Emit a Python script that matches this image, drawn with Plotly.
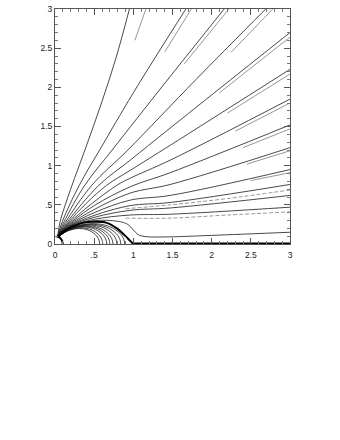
import plotly.graph_objects as go

# ---- tick labels ----
tick_vals = [0, 0.5, 1, 1.5, 2, 2.5, 3]
tick_text = ["0", ".5", "1", "1.5", "2", "2.5", "3"]

# ---- open field lines (solid, black) ----
open_x = [
    [0.035, 0.067, 0.2, 0.4, 0.6, 0.78, 0.95],
    [0.035, 0.093, 0.31, 0.57, 1.0, 1.67],
    [0.035, 0.112, 0.38, 0.73, 1.4, 2.16],
    [0.035, 0.129, 0.47, 0.93, 1.8, 2.69],
    [0.035, 0.143, 0.56, 0.96, 1.47, 3.0],
    [0.035, 0.155, 0.4, 0.66, 0.96, 1.47, 3.0],
    [0.035, 0.163, 0.45, 0.79, 0.96, 1.47, 3.0],
    [0.035, 0.172, 0.5, 0.96, 1.47, 3.0],
    [0.035, 0.178, 0.5, 0.96, 1.47, 3.0],
    [0.035, 0.185, 0.5, 0.96, 1.47, 3.0],
    [0.035, 0.191, 0.5, 0.96, 1.47, 3.0],
    [0.035, 0.195, 0.5, 0.96, 1.47, 3.0],
    [0.035, 0.199, 0.5, 0.96, 1.47, 3.0],
    [0.035, 0.203, 0.5, 0.8, 0.93, 1.0, 1.06, 1.15, 1.4, 2.0, 3.0],
]
open_y = [
    [0.105, 0.292, 0.7, 1.25, 1.82, 2.38, 3.0],
    [0.105, 0.285, 0.75, 1.2, 1.93, 3.0],
    [0.105, 0.278, 0.75, 1.2, 2.05, 3.0],
    [0.105, 0.271, 0.75, 1.2, 2.1, 3.0],
    [0.105, 0.264, 0.75, 1.07, 1.48, 2.7],
    [0.105, 0.257, 0.52, 0.75, 0.94, 1.26, 2.23],
    [0.105, 0.252, 0.5, 0.75, 0.84, 1.07, 1.85],
    [0.105, 0.246, 0.49, 0.73, 0.91, 1.52],
    [0.105, 0.241, 0.44, 0.65, 0.76, 1.23],
    [0.105, 0.236, 0.40, 0.56, 0.62, 0.95],
    [0.105, 0.232, 0.365, 0.49, 0.53, 0.76],
    [0.105, 0.228, 0.34, 0.43, 0.46, 0.62],
    [0.105, 0.225, 0.315, 0.37, 0.38, 0.47],
    [0.105, 0.221, 0.297, 0.29, 0.25, 0.18, 0.12, 0.095, 0.09, 0.11, 0.15],
]

# ---- closed loops inside the light cylinder ----
loop_x = [
    [0.045, 0.152, 0.31, 0.445, 0.534, 0.564, 0.57],
    [0.045, 0.162, 0.332, 0.476, 0.571, 0.603, 0.61],
    [0.045, 0.176, 0.359, 0.515, 0.618, 0.653, 0.66],
    [0.045, 0.186, 0.381, 0.546, 0.655, 0.692, 0.70],
    [0.045, 0.197, 0.403, 0.577, 0.693, 0.732, 0.74],
    [0.045, 0.21, 0.43, 0.616, 0.739, 0.781, 0.79],
    [0.045, 0.223, 0.457, 0.655, 0.786, 0.831, 0.84],
    [0.045, 0.237, 0.484, 0.694, 0.833, 0.88, 0.89],
]
loop_y = [
    [0.095, 0.163, 0.198, 0.169, 0.100, 0.042, 0.0],
    [0.095, 0.170, 0.207, 0.177, 0.105, 0.0435, 0.0],
    [0.095, 0.180, 0.219, 0.187, 0.111, 0.046, 0.0],
    [0.095, 0.186, 0.226, 0.194, 0.115, 0.048, 0.0],
    [0.095, 0.192, 0.234, 0.200, 0.118, 0.049, 0.0],
    [0.095, 0.200, 0.243, 0.209, 0.123, 0.051, 0.0],
    [0.095, 0.208, 0.252, 0.216, 0.128, 0.053, 0.0],
    [0.095, 0.214, 0.260, 0.223, 0.132, 0.055, 0.0],
]

# ---- last closed field line (thick) and equatorial current sheet ----
sep_x = [0.045, 0.1, 0.23, 0.36, 0.51, 0.66, 0.79, 0.89, 0.96, 1.0]
sep_y = [0.095, 0.15, 0.225, 0.272, 0.283, 0.27, 0.2, 0.11, 0.04, 0.0]
sheet_x = [1.0, 3.0]
sheet_y = [0.006, 0.006]

# ---- stellar surface arc ----
star_x = [0.02, 0.05, 0.071, 0.087, 0.1]
star_y = [0.098, 0.087, 0.071, 0.05, 0.0]

# ---- grey comparison lines (outer parts) ----
grey_x = [
    [1.02, 1.16], [1.4, 1.74], [1.65, 2.22], [2.25, 2.78],
    [2.1, 3.0], [2.2, 3.0], [2.3, 3.0], [2.4, 3.0], [2.45, 3.0], [2.5, 3.0],
]
grey_y = [
    [2.6, 3.0], [2.45, 3.0], [2.3, 3.0], [2.45, 3.0],
    [1.93, 2.64], [1.67, 2.17], [1.44, 1.80], [1.23, 1.47], [1.02, 1.19], [0.81, 0.91],
]
dash_x = [[0.9, 1.47, 2.2, 3.0], [0.9, 1.47, 2.2, 3.0]]
dash_y = [[0.45, 0.50, 0.58, 0.69], [0.33, 0.33, 0.37, 0.41]]

fig = go.Figure()

def add(xs, ys, color, width, dash="solid", shape="spline", smooth=1.0):
    fig.add_trace(go.Scatter(
        x=xs, y=ys, mode="lines",
        line=dict(color=color, width=width, dash=dash, shape=shape,
                  smoothing=smooth if shape == "spline" else None),
        hoverinfo="skip", showlegend=False))

for xs, ys in zip(grey_x, grey_y):
    add(xs, ys, "#8a8a8a", 0.9, shape="linear")
for xs, ys in zip(dash_x, dash_y):
    add(xs, ys, "#8a8a8a", 0.9, dash="4px,2px")
for xs, ys in zip(loop_x, loop_y):
    add(xs, ys, "#1a1a1a", 0.8)
for xs, ys in zip(open_x, open_y):
    add(xs, ys, "#1a1a1a", 0.8, smooth=1.0)
add(sep_x, sep_y, "#000000", 2.0)
add(sheet_x, sheet_y, "#000000", 2.0, shape="linear")
add(star_x, star_y, "#000000", 2.0)

axis_common = dict(
    range=[0, 3], tickvals=tick_vals, ticktext=tick_text,
    ticks="inside", ticklen=6, tickwidth=1, tickcolor="#555",
    showline=True, linecolor="#555", linewidth=1, mirror="allticks",
    showgrid=False, zeroline=False, automargin=False,
    minor=dict(dtick=0.1, ticks="inside", ticklen=3, tickcolor="#777", tickwidth=1),
    tickfont=dict(family="Liberation Sans", size=8.5, color="#222"),
    fixedrange=True,
)

fig.update_layout(
    width=340, height=440,
    margin=dict(l=55, r=50, t=9, b=196, autoexpand=False),
    paper_bgcolor="white", plot_bgcolor="white",
    xaxis=dict(**axis_common, ticklabelstandoff=3),
    yaxis=dict(**axis_common),
)

# remove the default 8px page margin so the figure sits at the window's corner
fig.write_html(
    "out.html",
    config={"displayModeBar": False, "staticPlot": True},
    post_script="document.body.style.margin='0';",
)
